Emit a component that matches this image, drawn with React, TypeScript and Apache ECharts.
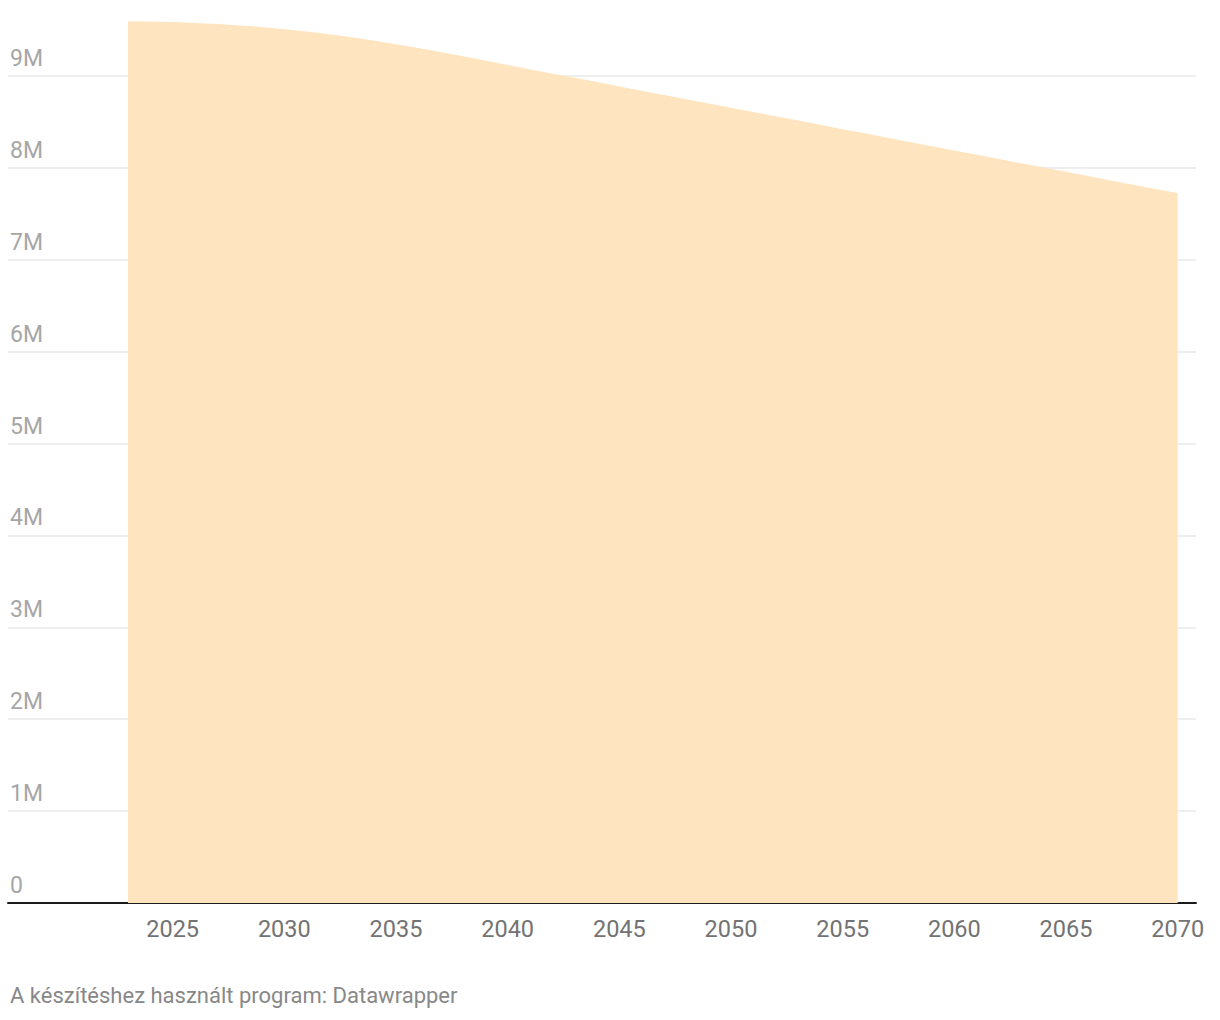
import React, { useEffect, useRef } from "react";
import * as echarts from "echarts";

// Population (millions)
const years: number[] = [
  2023, 2024, 2025, 2026, 2027, 2028, 2029, 2030, 2031, 2032, 2033, 2034,
  2035, 2036, 2037, 2038, 2039, 2040, 2041, 2042, 2043, 2044, 2045, 2046,
  2047, 2048, 2049, 2050, 2051, 2052, 2053, 2054, 2055, 2056, 2057, 2058,
  2059, 2060, 2061, 2062, 2063, 2064, 2065, 2066, 2067, 2068, 2069, 2070,
];
const population: number[] = [
  9.596, 9.593, 9.587, 9.578, 9.566, 9.551, 9.533, 9.51, 9.485, 9.456, 9.423, 9.386,
  9.347, 9.305, 9.261, 9.215, 9.168, 9.12, 9.073, 9.025, 8.98, 8.934, 8.887, 8.84,
  8.794, 8.748, 8.701, 8.655, 8.608, 8.562, 8.515, 8.469, 8.422, 8.376, 8.329, 8.283,
  8.236, 8.19, 8.143, 8.097, 8.05, 8.004, 7.957, 7.911, 7.864, 7.818, 7.771, 7.727,
];
const xTicks: number[] = [2025, 2030, 2035, 2040, 2045, 2050, 2055, 2060, 2065, 2070];
const yTicks: number[] = [0, 1, 2, 3, 4, 5, 6, 7, 8, 9];
const footer = "A készítéshez használt program: Datawrapper";

const FONT = "Roboto, 'Noto Sans', sans-serif";

export default function App() {
  const ref = useRef<HTMLDivElement>(null);
  useEffect(() => {
    if (!ref.current) return;
    const chart = echarts.init(ref.current, undefined, { renderer: "svg" });
    chart.setOption({
      animation: false,
      backgroundColor: "#ffffff",
      textStyle: { fontFamily: FONT },
      grid: { left: 8, right: 24, top: 20.9, bottom: 117, containLabel: false },
      xAxis: {
        type: "value",
        min: 2017.627,
        max: 2070.82,
        axisLine: { show: true, lineStyle: { color: "#1a1a1a", width: 2 } },
        axisTick: { show: false, customValues: xTicks },
        splitLine: { show: false },
        axisLabel: {
          customValues: xTicks,
          color: "#737373",
          fontSize: 23.5,
          fontFamily: FONT,
          margin: 14,
          formatter: (v: number) => String(v),
        },
      },
      yAxis: {
        type: "value",
        min: 0,
        max: 9.6,
        interval: 1,
        axisLine: { show: false },
        axisTick: { show: false, customValues: yTicks },
        splitLine: { show: true, lineStyle: { color: "#e8e8e8", width: 1.5 } },
        axisLabel: {
          customValues: yTicks,
          inside: true,
          margin: 2,
          align: "left",
          verticalAlign: "bottom",
          padding: [0, 0, 6, 0],
          color: "#a6a6a6",
          fontSize: 23,
          fontFamily: FONT,
          formatter: (v: number) => (v === 0 ? "0" : `${v}M`),
        },
      },
      series: [
        {
          type: "line",
          data: years.map((y, i) => [y, population[i]]),
          symbol: "none",
          lineStyle: { width: 0 },
          areaStyle: { color: "#fee4bf", opacity: 1 },
          z: 1,
        },
      ],
      graphic: [
        {
          type: "text",
          left: 10,
          top: 984,
          style: {
            text: footer,
            fill: "#888888",
            fontSize: 22,
            fontFamily: FONT,
          },
        },
      ],
    });
    return () => chart.dispose();
  }, []);
  return (
    <div
      ref={ref}
      style={{ position: "fixed", left: 0, top: 0, width: 1220, height: 1020 }}
    />
  );
}
